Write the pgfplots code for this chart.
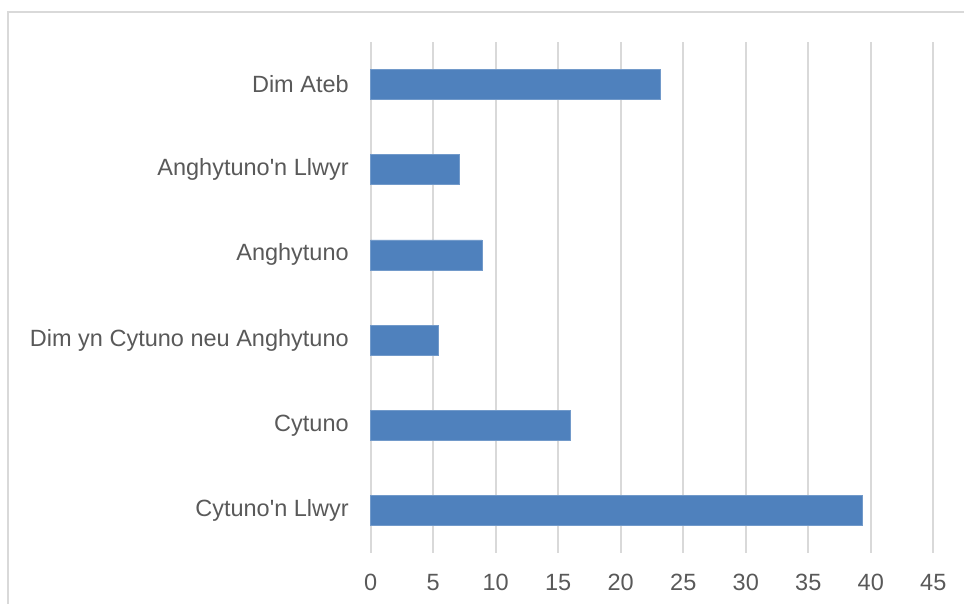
\documentclass[border=0pt]{standalone}
\usepackage{pgfplots}
\pgfplotsset{compat=1.18}
\usepackage{fontspec}
\setmainfont{Liberation Sans}
\definecolor{barblue}{HTML}{4F81BD}
\definecolor{gridgray}{HTML}{D9D9D9}
\definecolor{txtgray}{HTML}{595959}
\begin{document}
\begin{tikzpicture}
\useasboundingbox (0pt,0pt) rectangle (482pt,302pt);
\draw[gridgray, line width=1pt] (3.75pt,-10pt) -- (3.75pt,295.75pt) -- (500pt,295.75pt);
\begin{axis}[
  at={(185.35pt,25.5pt)}, anchor=south west,
  scale only axis, width=281.3pt, height=255.5pt,
  xbar, bar width=15pt,
  xmin=0, xmax=45, ymin=-0.5, ymax=5.5,
  xtick={0,5,...,45},
  ytick={0,1,2,3,4,5},
  yticklabels={Cytuno\textquotesingle n Llwyr,Cytuno,Dim yn Cytuno neu Anghytuno,Anghytuno,Anghytuno\textquotesingle n Llwyr,Dim Ateb},
  xmajorgrids, major grid style={gridgray, line width=0.9pt},
  axis line style={draw=none},
  major tick length=0pt,
  tick style={draw=none},
  /pgf/number format/assume math mode=true,
  tick label style={font=\fontsize{11.75}{14}\selectfont, text=txtgray},
  yticklabel style={anchor=east, inner sep=0pt, xshift=-10.8pt},
  xticklabel style={anchor=north, inner sep=0pt, yshift=-10.5pt},
  clip=false,
]
\addplot[fill=barblue, draw=barblue!80!white, line width=0.3pt] coordinates {
  (39.3,0) (16.0,1) (5.4,2) (8.9,3) (7.1,4) (23.2,5)
};
\end{axis}
\end{tikzpicture}
\end{document}
